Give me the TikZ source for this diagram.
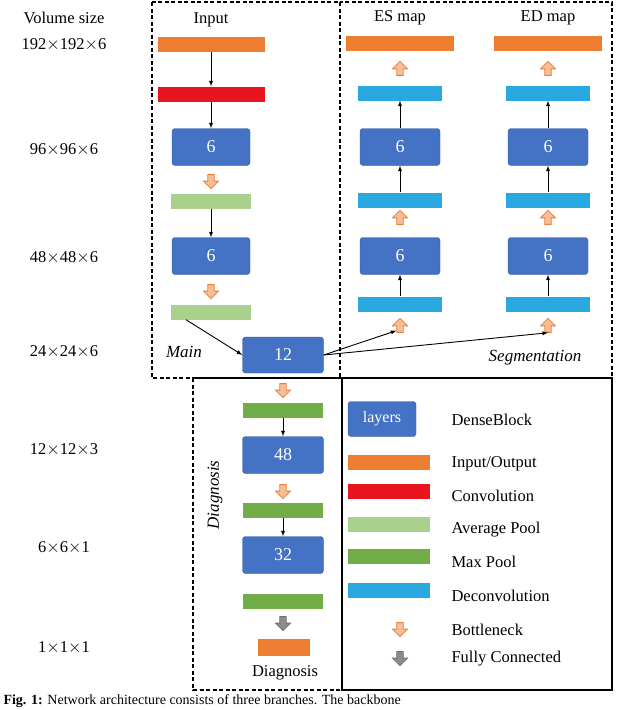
\documentclass[tikz,border=0pt]{standalone}
\usepackage{fontspec}
\setmainfont{Liberation Serif}
\usetikzlibrary{shapes.arrows}
\definecolor{cOr}{HTML}{ED7D31}
\definecolor{cRd}{HTML}{E8141E}
\definecolor{cBl}{HTML}{4472C4}
\definecolor{cLg}{HTML}{A9D18E}
\definecolor{cGr}{HTML}{70AD47}
\definecolor{cCy}{HTML}{2AA9E0}
\definecolor{cGy}{HTML}{8C8C8C}
\begin{document}
\begin{tikzpicture}[x=1pt,y=-1pt,font=\fontsize{16.5}{18}\selectfont,
 bar/.style={minimum height=15pt,inner sep=0pt,draw=none},
 blk/.style={fill=cBl,draw=cBl!80!black,rounded corners=3pt,minimum width=78pt,minimum height=37pt,text=white,inner sep=0pt,font=\fontsize{18}{20}\selectfont},
 bn/.style={single arrow,draw=cOr,fill=cOr!50,minimum width=15pt,minimum height=14pt,single arrow head extend=2.5pt,inner sep=1.5pt,line width=0.8pt},
 fc/.style={bn,draw=cGy!80!black,fill=cGy},
 dn/.style={shape border rotate=270},
 up/.style={shape border rotate=90},
 dbox/.style={draw,dash pattern=on 4pt off 2.5pt,line width=1.2pt},
 ar/.style={-latex,line width=0.9pt},
 lt/.style={anchor=west}]
\clip (0,0) rectangle (640,710);
\fill[white] (0,0) rectangle (640,710);
% volume sizes
\foreach \t/\y/\n in {Volume size/18/v0,192$\times$192$\times$6/45/v1,96$\times$96$\times$6/150/v2,48$\times$48$\times$6/258/v3,24$\times$24$\times$6/352/v4,12$\times$12$\times$3/450/v5,6$\times$6$\times$1/548/v6,1$\times$1$\times$1/648/v7}
  \node (\n) at (64,\y) {\t};
% boxes
\draw[dbox] (152,2) rectangle (340,378);
\draw[dbox] (340,2) rectangle (612,378);
\draw[dbox] (193,378) rectangle (342,690);
\draw[line width=1.4pt] (342,378) rectangle (612,690);
% main
\node (tin) at (211,20) {Input};
\node[bar,fill=cOr,minimum width=107pt] (m1) at (211,44) {};
\node[bar,fill=cRd,minimum width=107pt] (m2) at (211,94) {};
\node[blk] (m3) at (211,147) {6};
\node[bn,dn] (mb1) at (211,180) {};
\node[bar,fill=cLg,minimum width=80pt] (m4) at (211,201) {};
\node[blk] (m5) at (211,256) {6};
\node[bn,dn] (mb2) at (211,290) {};
\node[bar,fill=cLg,minimum width=80pt] (m6) at (211,312) {};
\node[blk,minimum width=81pt,minimum height=36pt] (m7) at (283,355) {12};
\draw[ar] (m1) -- (m2);
\draw[ar] (m2) -- (m3);
\draw[ar] (m4) -- (m5);
\draw[ar] (m6.south) ++(-25,0) coordinate (m6s) -- (m7.west);
\node[font=\itshape\fontsize{17}{19}\selectfont] (lmain) at (184,352) {Main};
% segmentation columns
\foreach \c/\x/\t in {e/400/ES map,d/548/ED map}{
 \node (t\c) at (\x,18) {\t};
 \node[bar,fill=cOr,minimum width=108pt] (\c1) at (\x,43) {};
 \node[bn,up] (\c b1) at (\x,70) {};
 \node[bar,fill=cCy,minimum width=84pt] (\c2) at (\x,93) {};
 \node[blk,minimum width=80pt] (\c3) at (\x,147) {6};
 \node[bar,fill=cCy,minimum width=84pt] (\c4) at (\x,200) {};
 \node[bn,up] (\c b2) at (\x,219) {};
 \node[blk,minimum width=80pt] (\c5) at (\x,256) {6};
 \node[bar,fill=cCy,minimum width=84pt] (\c6) at (\x,304) {};
 \node[bn,up] (\c b3) at (\x,327) {};
 \draw[ar] (\c3) -- (\c2);
 \draw[ar] (\c4) -- (\c3);
 \draw[ar] (\c6) -- (\c5);
}
\draw[ar] (m7.east) -- (eb3.south west);
\draw[ar] (m7.east) -- (db3.south);
\node[font=\itshape\fontsize{17}{19}\selectfont] (lseg) at (535,358) {Segmentation};
% diagnosis
\node[bn,dn] (gb1) at (283,389) {};
\node[bar,fill=cGr,minimum width=80pt] (g1) at (283,410) {};
\node[blk,minimum width=81pt] (g2) at (283,455) {48};
\node[bn,dn] (gb2) at (283,490) {};
\node[bar,fill=cGr,minimum width=80pt] (g3) at (283,510) {};
\node[blk,minimum width=81pt] (g4) at (283,555) {32};
\node[bar,fill=cGr,minimum width=80pt] (g5) at (283,601) {};
\node[fc,dn] (gb3) at (283,622) {};
\node[bar,fill=cOr,minimum width=52pt,minimum height=17pt] (g6) at (284,647) {};
\node (tdiag) at (285,673) {Diagnosis};
\node[font=\itshape\fontsize{17}{19}\selectfont,rotate=90] (ldiag) at (215,495) {Diagnosis};
\draw[ar] (g1) -- (g2);
\draw[ar] (g3) -- (g4);
% legend
\node[blk,minimum width=68pt,minimum height=35pt,font=\fontsize{16}{18}\selectfont] (l1) at (382,419) {layers};
\node[bar,fill=cOr,minimum width=82pt] (l2) at (389,462) {};
\node[bar,fill=cRd,minimum width=82pt] (l3) at (389,491) {};
\node[bar,fill=cLg,minimum width=82pt] (l4) at (389,524) {};
\node[bar,fill=cGr,minimum width=82pt] (l5) at (389,556) {};
\node[bar,fill=cCy,minimum width=82pt] (l6) at (389,590) {};
\node[bn,dn] (l7) at (400,628) {};
\node[fc,dn] (l8) at (400,657) {};
\node[lt] (d1) at (448,420) {DenseBlock};
\node[lt] (d2) at (448,464) {Input/Output};
\node[lt] (d3) at (448,496) {Convolution};
\node[lt] (d4) at (448,530) {Average Pool};
\node[lt] (d5) at (448,562) {Max Pool};
\node[lt] (d6) at (448,596) {Deconvolution};
\node[lt] (d7) at (448,630) {Bottleneck};
\node[lt] (d8) at (448,659) {Fully Connected};
% caption
\node[anchor=west,font=\fontsize{14}{15}\selectfont] (cap) at (0,701) {\textbf{Fig. 1:} Network architecture consists of three branches. The backbone};
\end{tikzpicture}
\end{document}
